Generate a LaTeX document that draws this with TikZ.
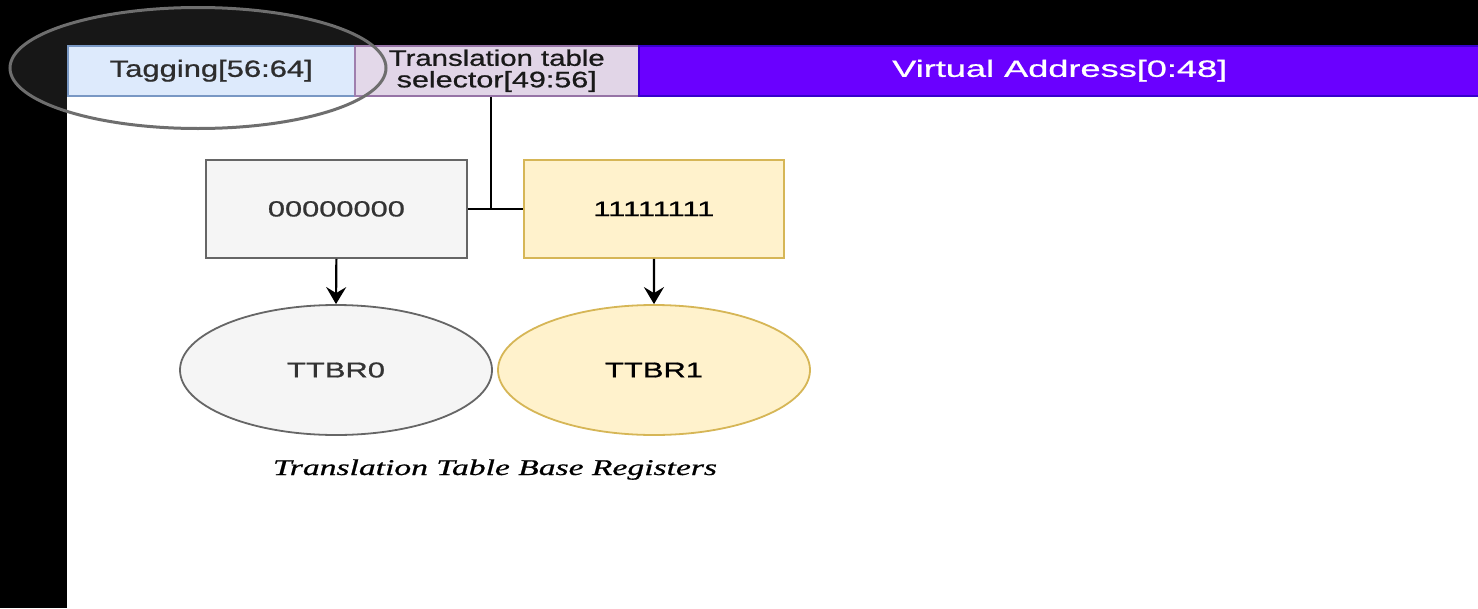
\documentclass[tikz,border=0pt]{standalone}
\usepackage{fontspec}
\usepackage{graphicx}
\setmainfont{Liberation Sans}[FakeBold=0.7]
\newfontfamily\captionserif{Liberation Serif}[FakeBold=0.6]
\usetikzlibrary{arrows.meta,shapes.geometric}

\definecolor{tagfill}{HTML}{DAE8FC}
\definecolor{tagline}{HTML}{6C8EBF}
\definecolor{selfill}{HTML}{E1D5E7}
\definecolor{selline}{HTML}{9673A6}
\definecolor{vafill}{HTML}{6A00FF}
\definecolor{valine}{HTML}{3700CC}
\definecolor{grayfill}{HTML}{F5F5F5}
\definecolor{grayline}{HTML}{666666}
\definecolor{graytext}{HTML}{333333}
\definecolor{yelfill}{HTML}{FFF2CC}
\definecolor{yelline}{HTML}{D6B656}
\definecolor{ringline}{HTML}{6E6E6E}

% stretch a piece of text to a given width, keeping its height
\newcommand\wfit[2]{\resizebox{#1}{\height}{#2}}
\newcommand\fsz[1]{\fontsize{#1}{#1}\selectfont}

\tikzset{
  field/.style={draw, line width=1.5pt, anchor=north west, minimum height=50pt, inner sep=0pt},
  regbox/.style={draw, line width=1.8pt, anchor=north west, minimum width=261pt, minimum height=98pt, inner sep=0pt},
  regoval/.style={ellipse, draw, line width=1.8pt, minimum width=312pt, minimum height=130pt, inner sep=0pt},
  wire/.style={line width=2.2pt, black},
  arr/.style={line width=2.2pt, black, -{Stealth[length=17pt, width=20pt, inset=6pt]}},
  ring/.style={ellipse, draw=ringline, line width=3pt, fill=white, fill opacity=0.09, minimum width=376pt, minimum height=121pt, inner sep=0pt}
}

\begin{document}
\begin{tikzpicture}[x=1pt, y=-1pt]
  % page background
  \fill[black] (0,0) rectangle (1478,608);
  \useasboundingbox (0,0) rectangle (1478,608);
  \fill[white] (67,95) rectangle (1478,608);

  % address fields
  \node[field, fill=tagfill, draw=tagline, minimum width=287pt, text=black!90]
    (tag) at (67,45) {\fsz{23.5}\raisebox{-2.5pt}{\wfit{203pt}{Tagging[56:64]}}};
  \node[field, fill=selfill, draw=selline, minimum width=284pt, align=center, text=black!90,
        font=\fontsize{22.5}{21.5}\selectfont]
    (sel) at (354,45) {\wfit{216pt}{Translation table}\\\wfit{200pt}{selector[49:56]}};
  \node[field, fill=vafill, draw=valine, minimum width=842pt, text=white]
    (va) at (638,45) {\fsz{23.5}\raisebox{-2.5pt}{\wfit{335pt}{Virtual Address[0:48]}}};

  % highlight ring round the tag field
  \node[ring] (ring) at (198,68) {};

  % selector values
  \node[regbox, fill=grayfill, draw=grayline, text=graytext]
    (b0) at (205,159) {\fsz{22}\wfit{137pt}{00000000}};
  \node[regbox, fill=yelfill, draw=yelline, minimum width=260pt, text=black]
    (b1) at (523,159) {\fsz{21}\wfit{121pt}{11111111}};

  % base registers
  \node[regoval, fill=grayfill, draw=grayline, text=graytext]
    (t0) at (336,370) {\fsz{21.5}\wfit{98pt}{TTBR0}};
  \node[regoval, fill=yelfill, draw=yelline, text=black]
    (t1) at (654,370) {\fsz{21.5}\wfit{98pt}{TTBR1}};

  % selector wiring
  \coordinate (j) at (491,208);
  \draw[wire] (sel.south -| j) -- (j);
  \draw[wire] (b0.east) -- (b1.west);

  % value to register
  \draw[arr] (b0.south) -- (t0.north);
  \draw[arr] (b1.south) -- (t1.north);

  % caption
  \node[anchor=base, inner sep=0pt] (cap) at (495,475)
    {\captionserif\itshape\fsz{22.5}\wfit{444pt}{Translation Table Base Registers}};
\end{tikzpicture}
\end{document}
